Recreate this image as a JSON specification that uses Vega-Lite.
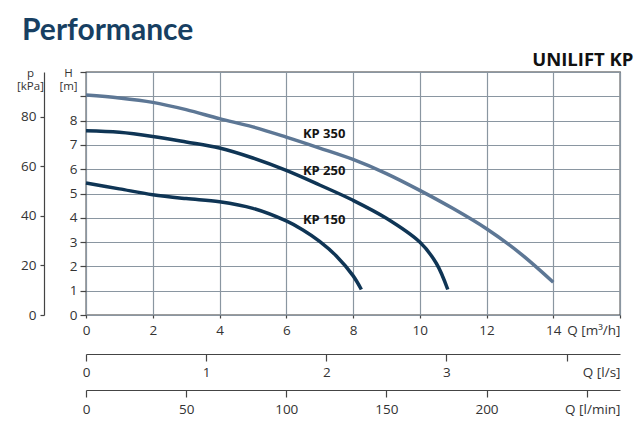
{
  "$schema": "https://vega.github.io/schema/vega-lite/v6.json",
  "width": 534,
  "height": 243,
  "autosize": {"type": "none"},
  "padding": {"left": 86, "top": 72, "right": 20, "bottom": 115},
  "background": "white",
  "title": {
    "text": "Performance",
    "anchor": "start",
    "frame": "group",
    "dx": -64,
    "offset": 4,
    "font": "Lato",
    "fontSize": 30,
    "fontWeight": "bold",
    "color": "#173f62"
  },
  "datasets": {
    "curves": [
      {"series": "KP 350", "Q": 0, "H": 9.05},
      {"series": "KP 350", "Q": 1, "H": 8.93},
      {"series": "KP 350", "Q": 2, "H": 8.75},
      {"series": "KP 350", "Q": 3, "H": 8.45},
      {"series": "KP 350", "Q": 4, "H": 8.08},
      {"series": "KP 350", "Q": 5, "H": 7.74},
      {"series": "KP 350", "Q": 6, "H": 7.32},
      {"series": "KP 350", "Q": 7, "H": 6.87},
      {"series": "KP 350", "Q": 8, "H": 6.40},
      {"series": "KP 350", "Q": 9, "H": 5.82},
      {"series": "KP 350", "Q": 10, "H": 5.13},
      {"series": "KP 350", "Q": 11, "H": 4.38},
      {"series": "KP 350", "Q": 12, "H": 3.55},
      {"series": "KP 350", "Q": 13, "H": 2.55},
      {"series": "KP 350", "Q": 14, "H": 1.35},
      {"series": "KP 250", "Q": 0, "H": 7.58},
      {"series": "KP 250", "Q": 1, "H": 7.52},
      {"series": "KP 250", "Q": 2, "H": 7.35},
      {"series": "KP 250", "Q": 3, "H": 7.12},
      {"series": "KP 250", "Q": 4, "H": 6.87},
      {"series": "KP 250", "Q": 5, "H": 6.46},
      {"series": "KP 250", "Q": 6, "H": 5.95},
      {"series": "KP 250", "Q": 7, "H": 5.35},
      {"series": "KP 250", "Q": 8, "H": 4.72},
      {"series": "KP 250", "Q": 9, "H": 3.98},
      {"series": "KP 250", "Q": 10, "H": 3.0},
      {"series": "KP 250", "Q": 10.5, "H": 2.12},
      {"series": "KP 250", "Q": 10.84, "H": 1.05},
      {"series": "KP 150", "Q": 0, "H": 5.43},
      {"series": "KP 150", "Q": 1, "H": 5.19},
      {"series": "KP 150", "Q": 2, "H": 4.95},
      {"series": "KP 150", "Q": 3, "H": 4.79},
      {"series": "KP 150", "Q": 4, "H": 4.66},
      {"series": "KP 150", "Q": 5, "H": 4.39},
      {"series": "KP 150", "Q": 6, "H": 3.87},
      {"series": "KP 150", "Q": 6.5, "H": 3.5},
      {"series": "KP 150", "Q": 7, "H": 3.03},
      {"series": "KP 150", "Q": 7.5, "H": 2.43},
      {"series": "KP 150", "Q": 8, "H": 1.62},
      {"series": "KP 150", "Q": 8.25, "H": 1.05}
    ],
    "labels": [
      {"label": "KP 350", "Q": 6.5, "H": 7.46},
      {"label": "KP 250", "Q": 6.5, "H": 5.94},
      {"label": "KP 150", "Q": 6.5, "H": 3.92}
    ]
  },
  "resolve": {"axis": {"x": "independent", "y": "independent"}},
  "layer": [
    {
      "data": {"name": "curves"},
      "transform": [{"filter": {"field": "series", "equal": "KP 350"}}],
      "mark": {"type": "line", "color": "#5d7795", "strokeWidth": 3.5, "interpolate": "catmull-rom"},
      "encoding": {
        "x": {
          "field": "Q", "type": "quantitative",
          "scale": {"domain": [0, 16], "nice": false, "zero": true},
          "axis": {
            "orient": "bottom",
            "values": [0, 2, 4, 6, 8, 10, 12, 14, 16],
            "labelExpr": "datum.value <= 14 ? datum.label : ''",
            "grid": true,
            "domain": false,
            "tickSize": 3,
            "labelPadding": 5,
            "title": "Q [m³/h]",
            "titleX": 534,
            "titleY": 8,
            "titleAlign": "right",
            "titleBaseline": "top"
          }
        },
        "y": {
          "field": "H", "type": "quantitative",
          "scale": {"domain": [0, 10], "nice": false, "zero": true},
          "axis": {
            "orient": "left",
            "values": [0, 1, 2, 3, 4, 5, 6, 7, 8, 9, 10],
            "labelExpr": "datum.value <= 8 ? datum.label : ''",
            "grid": true,
            "domain": false,
            "tickSize": 6,
            "labelPadding": 3,
            "title": ["H", "[m]"],
            "titleAngle": 0,
            "titleX": -18,
            "titleY": -5,
            "titleAlign": "center",
            "titleBaseline": "top",
            "titleFontSize": 11.5,
            "titleLineHeight": 13.5
          }
        }
      }
    },
    {
      "data": {"name": "curves"},
      "transform": [{"filter": {"field": "series", "equal": "KP 250"}}],
      "mark": {"type": "line", "color": "#0f3555", "strokeWidth": 3.5, "interpolate": "catmull-rom"},
      "encoding": {
        "x": {
          "field": "Q", "type": "quantitative",
          "scale": {"domain": [0, 16], "nice": false, "zero": true},
          "axis": {
            "orient": "bottom",
            "offset": 39,
            "values": [0, 3.6, 7.2, 10.8, 14.4],
            "labelExpr": "datum.value < 14 ? format(datum.value / 3.6, 'd') : ''",
            "grid": false,
            "domain": true,
            "tickSize": 7,
            "labelPadding": 4,
            "title": "Q [l/s]",
            "titleX": 534,
            "titleY": 11,
            "titleAlign": "right",
            "titleBaseline": "top"
          }
        },
        "y": {
          "field": "H", "type": "quantitative",
          "scale": {"domain": [0, 10], "nice": false, "zero": true},
          "axis": {
            "orient": "left",
            "offset": 42,
            "values": [0, 2.0387, 4.0775, 6.1162, 8.155],
            "labelExpr": "format(datum.value * 9.81, '.0f')",
            "grid": false,
            "domain": true,
            "tickSize": 4,
            "labelPadding": 4,
            "title": ["p", "[kPa]"],
            "titleAngle": 0,
            "titleX": -14,
            "titleY": -5,
            "titleAlign": "center",
            "titleBaseline": "top",
            "titleFontSize": 11.5,
            "titleLineHeight": 13.5
          }
        }
      }
    },
    {
      "data": {"name": "curves"},
      "transform": [{"filter": {"field": "series", "equal": "KP 150"}}],
      "mark": {"type": "line", "color": "#0f3555", "strokeWidth": 3.5, "interpolate": "catmull-rom"},
      "encoding": {
        "x": {
          "field": "Q", "type": "quantitative",
          "scale": {"domain": [0, 16], "nice": false, "zero": true},
          "axis": {
            "orient": "bottom",
            "offset": 75,
            "values": [0, 3, 6, 9, 12, 15],
            "labelExpr": "datum.value < 14 ? format(datum.value / 0.06, 'd') : ''",
            "grid": false,
            "domain": true,
            "tickSize": 7,
            "labelPadding": 5,
            "title": "Q [l/min]",
            "titleX": 534,
            "titleY": 12,
            "titleAlign": "right",
            "titleBaseline": "top"
          }
        },
        "y": {
          "field": "H", "type": "quantitative",
          "scale": {"domain": [0, 10], "nice": false, "zero": true},
          "axis": null
        }
      }
    },
    {
      "data": {"name": "labels"},
      "mark": {"type": "text", "align": "left", "baseline": "middle", "font": "Open Sans", "fontSize": 13, "fontWeight": "bold", "color": "#151515"},
      "encoding": {
        "x": {
          "field": "Q", "type": "quantitative",
          "scale": {"domain": [0, 16], "nice": false, "zero": true},
          "axis": {
            "orient": "top",
            "labels": false,
            "ticks": false,
            "domain": false,
            "grid": false,
            "title": "UNILIFT KP",
            "titleX": 547,
            "titleY": -7,
            "titleAlign": "right",
            "titleBaseline": "alphabetic",
            "titleFontSize": 18.5,
            "titleFontWeight": "bold",
            "titleColor": "#111111"
          }
        },
        "y": {
          "field": "H", "type": "quantitative",
          "scale": {"domain": [0, 10], "nice": false, "zero": true},
          "axis": null
        },
        "text": {"field": "label", "type": "nominal"}
      }
    }
  ],
  "config": {
    "view": {"stroke": "#3a3a3a", "strokeWidth": 1.3},
    "axis": {
      "labelFont": "Open Sans",
      "labelFontSize": 13.5,
      "labelColor": "#333333",
      "labelOverlap": false,
      "labelFlush": false,
      "titleFont": "Open Sans",
      "titleFontSize": 13.5,
      "titleFontWeight": "normal",
      "titleColor": "#333333",
      "domainColor": "#444444",
      "domainWidth": 1.2,
      "tickColor": "#444444",
      "tickWidth": 1.2,
      "gridColor": "#8a96a1",
      "gridWidth": 1.2,
      "gridOpacity": 1
    }
  }
}
